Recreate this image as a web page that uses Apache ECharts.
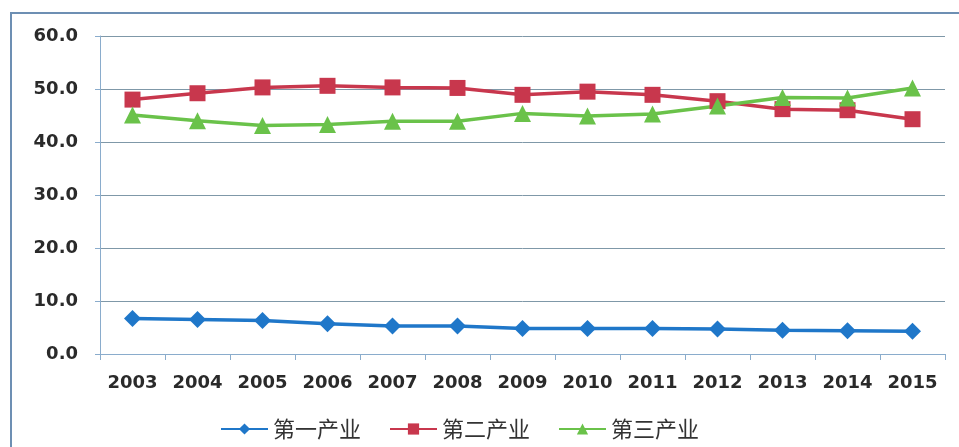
<!DOCTYPE html>
<html><head><meta charset="utf-8">
<script src="https://cdn.jsdelivr.net/npm/echarts@6/dist/echarts.min.js"></script>
<style>html,body{margin:0;padding:0;background:#fff}#c{width:959px;height:447px}</style>
</head><body><div id="c"></div>
<script>
const years = ['2003','2004','2005','2006','2007','2008','2009','2010','2011','2012','2013','2014','2015'];
const primary = [6.7, 6.5, 6.3, 5.7, 5.3, 5.3, 4.8, 4.8, 4.8, 4.7, 4.5, 4.4, 4.3];
const secondary = [48.0, 49.2, 50.3, 50.6, 50.3, 50.2, 48.9, 49.5, 48.9, 47.7, 46.2, 46.0, 44.3];
const tertiary = [45.1, 44.0, 43.1, 43.3, 43.9, 43.9, 45.4, 44.9, 45.3, 46.8, 48.4, 48.3, 50.2];
const names = ['第一产业','第二产业','第三产业'];
const yTicks = {min: 0, max: 60, interval: 10};

const chart = echarts.init(document.getElementById('c'));
const font = 'DejaVu Sans';
chart.setOption({
  animation: false,
  backgroundColor: '#fff',
  graphic: [{type:'rect', shape:{x:11, y:13, width:960, height:450}, style:{fill:'none', stroke:'#6d8fb3', lineWidth:2}}],
  grid: {left: 100, right: 14, top: 36, bottom: 93},
  legend: {
    left: 215, top: 413, itemWidth: 47, itemHeight: 14, itemGap: 28,
    textStyle: {fontFamily: '"Noto Sans CJK SC"', fontSize: 22, color: '#333'},
    data: names
  },
  xAxis: {
    type: 'category', data: years, boundaryGap: true,
    axisLine: {lineStyle: {color: '#8aaccc', width: 1}},
    axisTick: {show: true, length: 6, lineStyle: {color: '#8aaccc'}},
    axisLabel: {interval: 0, fontFamily: font, fontSize: 18, fontWeight: 'bold', color: '#2a2a2a', margin: 20}
  },
  yAxis: {
    type: 'value', min: yTicks.min, max: yTicks.max, interval: yTicks.interval,
    axisLine: {show: true, lineStyle: {color: '#8aaccc'}},
    axisTick: {show: true, length: 5, lineStyle: {color: '#8aaccc'}},
    axisLabel: {fontFamily: font, fontSize: 18, fontWeight: 'bold', color: '#2a2a2a', margin: 22, formatter: v => v.toFixed(1)},
    splitLine: {lineStyle: {color: '#7f98a8', width: 1}}
  },
  series: [
    {name: names[0], type: 'line', data: primary, symbol: 'diamond', symbolSize: 17,
     itemStyle: {color: '#1f77c9'}, lineStyle: {color: '#1f77c9', width: 3.5}},
    {name: names[1], type: 'line', data: secondary, symbol: 'rect', symbolSize: 16,
     itemStyle: {color: '#c8374d'}, lineStyle: {color: '#c8374d', width: 3.5}},
    {name: names[2], type: 'line', data: tertiary, symbol: 'triangle', symbolSize: 17,
     itemStyle: {color: '#6ac24a'}, lineStyle: {color: '#6ac24a', width: 3.5}}
  ]
});
</script></body></html>
